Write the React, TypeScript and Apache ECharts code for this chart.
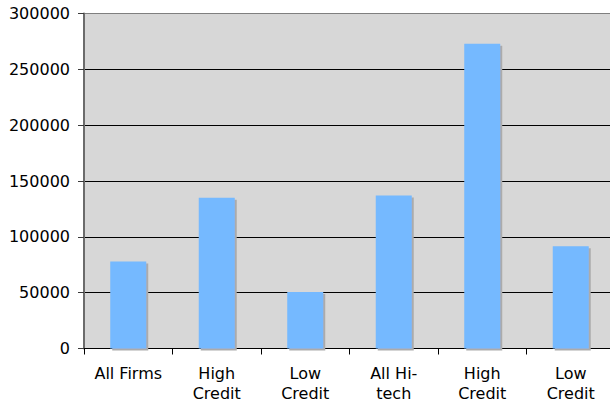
import React, { useEffect, useRef } from "react";
import * as echarts from "echarts";

// Category labels (two-line where wrapped) and bar values
const categories = ["All Firms", "High\nCredit", "Low\nCredit", "All Hi-\ntech", "High\nCredit", "Low\nCredit"];
const values = [78000, 135000, 50500, 137000, 273000, 91500];
const yTicks = { min: 0, max: 300000, interval: 50000 };

const FONT = "'DejaVu Sans', Verdana, sans-serif";

export default function App() {
  const ref = useRef<HTMLDivElement>(null);

  useEffect(() => {
    if (!ref.current) return;
    const chart = echarts.init(ref.current, null, { renderer: "svg" });
    chart.setOption({
      animation: false,
      backgroundColor: "#ffffff",
      grid: {
        left: 84,
        top: 13.5,
        bottom: 55.5,
        right: 1,
        show: true,
        backgroundColor: "#d7d7d7",
        borderColor: "#7f7f7f",
        borderWidth: 1,
      },
      xAxis: {
        type: "category",
        data: categories,
        axisLine: { show: true, lineStyle: { color: "#000000", width: 1 } },
        axisTick: { show: true, length: 6, lineStyle: { color: "#000000" } },
        axisLabel: {
          color: "#000000",
          fontFamily: FONT,
          fontSize: 16,
          lineHeight: 20,
          margin: 15,
          interval: 0,
        },
        splitLine: { show: false },
      },
      yAxis: {
        type: "value",
        min: yTicks.min,
        max: yTicks.max,
        interval: yTicks.interval,
        axisLine: { show: true, lineStyle: { color: "#6b6b6b", width: 2 } },
        axisTick: { show: true, length: 6, lineStyle: { color: "#3a3a3a" } },
        axisLabel: {
          color: "#000000",
          fontFamily: FONT,
          fontSize: 16,
          margin: 14,
          formatter: (v: number) => String(v),
        },
        splitLine: {
          show: true,
          lineStyle: {
            color: ["#000000", "#000000", "#000000", "#000000", "#000000", "#000000", "#7f7f7f"],
            width: 1,
          },
        },
      },
      series: [
        {
          type: "bar",
          data: values,
          barWidth: 36,
          itemStyle: {
            color: "#75b9ff",
            shadowColor: "#ababab",
            shadowOffsetX: 2,
            shadowOffsetY: 2,
            shadowBlur: 0,
          },
        },
      ],
    });
    return () => chart.dispose();
  }, []);

  // The plot runs slightly past the right edge of the window, so its right border is cut off.
  return (
    <div
      ref={ref}
      style={{ position: "fixed", left: 0, top: 0, width: 616, height: 404 }}
    />
  );
}
